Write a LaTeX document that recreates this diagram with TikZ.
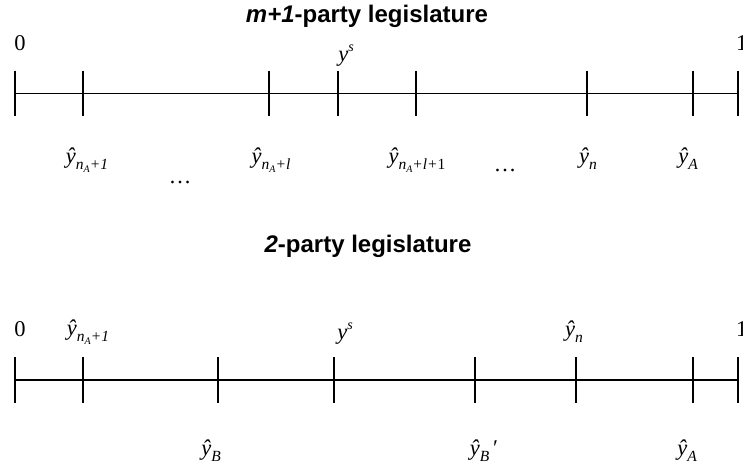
\documentclass[tikz,border=0pt]{standalone}
\usepackage{fontspec}
\setmainfont{Liberation Serif}
\newfontfamily\titlefont{Liberation Sans}
\newcommand{\yh}{\textit{ŷ}}
\newcommand{\sbs}[1]{\raisebox{-6pt}{\fontsize{15.5}{15.5}\selectfont\itshape #1}}
\newcommand{\ssbs}[1]{\raisebox{-3.5pt}{\fontsize{10}{10}\selectfont\itshape #1}}
\newcommand{\sps}[1]{\raisebox{10pt}{\fontsize{14}{14}\selectfont\itshape #1}}
\begin{document}
\begin{tikzpicture}[x=1pt,y=-1pt,
  axisline/.style={line width=1.3pt},
  tickline/.style={line width=1.3pt},
  lbl/.style={anchor=base,inner sep=0pt,font=\fontsize{22.5}{22.5}\selectfont},
  ttl/.style={anchor=base,inner sep=0pt,font=\titlefont\bfseries\fontsize{24}{24}\selectfont}]
\useasboundingbox (0,0) rectangle (743,466);

% ---------- top: m+1-party legislature ----------
\node[ttl] (title1) at (367,22) {\textit{m+1}-party legislature};
\coordinate (a0) at (15,93.3);
\coordinate (a1) at (738,93.3);
\draw[axisline] (a0) -- (a1);
\foreach \x [count=\i] in {15,83,269,338,416,587,693,738} {
  \coordinate (ta\i) at (\x,93.3);
  \draw[tickline] ([yshift=22.6pt]ta\i) -- ([yshift=-22.7pt]ta\i);
}
\node[lbl] (zeroA) at (20,50) {0};
\node[lbl,anchor=base west] (oneA) at (736,50) {1};
\node[lbl] (ysA) at (346,61) {\textit{y}\sps{s}};

\node[lbl] (l1) at (87,163) {\yh\sbs{n\ssbs{A}+1}};
\node[lbl] (d1) at (180,183) {…};
\node[lbl] (l2) at (271,163) {\yh\sbs{n\ssbs{A}+l}};
\node[lbl] (l3) at (417,163) {\yh\sbs{n\ssbs{A}+l+\upshape 1}};
\node[lbl] (d2) at (505,171) {…};
\node[lbl] (l4) at (588,163) {\yh\sbs{n}};
\node[lbl] (l5) at (688,163) {\yh\sbs{A}};

% ---------- bottom: 2-party legislature ----------
\node[ttl] (title2) at (368,252) {\textit{2}-party legislature};
\coordinate (b0) at (15,380);
\coordinate (b1) at (738,380);
\draw[axisline] (b0) -- (b1);
\foreach \x [count=\i] in {15,83,218,334,475,576,693,738} {
  \coordinate (tb\i) at (\x,380);
  \draw[tickline] ([yshift=23pt]tb\i) -- ([yshift=-23pt]tb\i);
}
\node[lbl] (zeroB) at (20,336) {0};
\node[lbl] (m1) at (88,335) {\yh\sbs{n\ssbs{A}+1}};
\node[lbl] (ysB) at (345,339) {\textit{y}\sps{s}};
\node[lbl] (m2) at (574,336) {\yh\sbs{n}};
\node[lbl,anchor=base west] (oneB) at (736,336) {1};

\node[lbl] (n1) at (211,455) {\yh\sbs{B}};
\node[lbl] (n2) at (484,455) {\yh\sbs{B}\,′};
\node[lbl] (n3) at (687,455) {\yh\sbs{A}};
\end{tikzpicture}
\end{document}
